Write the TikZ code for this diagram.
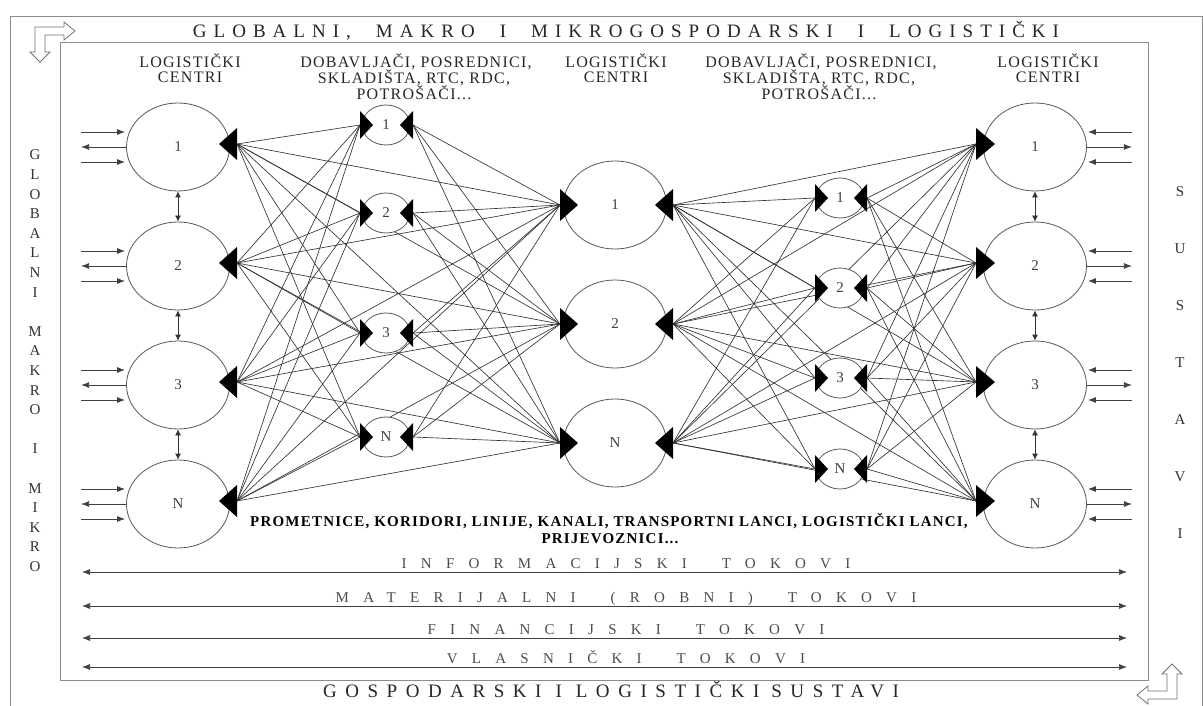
\documentclass[tikz,border=0pt]{standalone}
\usepackage{fontspec}
\setmainfont{Liberation Serif}
\newfontfamily\titlefont[LetterSpace=37]{Liberation Serif}
\newfontfamily\bottomfont[LetterSpace=45]{Liberation Serif}
\newfontfamily\flowfont[LetterSpace=95]{Liberation Serif}
\newfontfamily\headfont[LetterSpace=8]{Liberation Serif}
\newfontfamily\routefont[LetterSpace=8]{Liberation Serif}
\usetikzlibrary{shapes.geometric,arrows.meta,calc}
\newcommand\tipL[3]{\fill[tipcol] (#1) ++(0,#3) -- ++(-#2,-#3) -- ++(#2,-#3) -- cycle;}
\newcommand\tipR[3]{\fill[tipcol] (#1) ++(0,#3) -- ++(#2,-#3) -- ++(-#2,-#3) -- cycle;}
\newcommand\tw{\hspace{25pt}}
\newcommand\fw{\hspace{35pt}}
\begin{document}
\begin{tikzpicture}[x=1pt,y=-1pt,
  big/.style={ellipse,draw=black!65,line width=0.8pt,fill=white,minimum width=103pt,minimum height=88pt,inner sep=0pt,font=\fontsize{15}{15}\selectfont,text=black!75},
  small/.style={ellipse,draw=black!65,line width=0.8pt,fill=white,minimum width=48pt,minimum height=40pt,inner sep=0pt,font=\fontsize{15}{15}\selectfont,text=black!75},
  conn/.style={draw=black!80,line width=0.65pt},
  tipcol/.style={fill=black},
  side/.style={draw=black!75,line width=0.8pt},
  sidetip/.style={-{Latex[length=8pt,width=6pt]}},
  vdbl/.style={draw=black!80,line width=0.8pt,{Latex[length=6pt,width=6pt]}-{Latex[length=6pt,width=6pt]}},
  flow/.style={draw=black!75,line width=0.7pt,{Latex[length=8pt,width=6pt]}-{Latex[length=8pt,width=6pt]}},
  frame/.style={draw=black!45,line width=1pt},
  icon/.style={draw=black!55,line width=0.8pt,fill=white,line join=miter},
  head/.style={anchor=base,inner sep=0pt,font=\fontsize{16}{16}\headfont,text=black!85},
  title/.style={anchor=base,inner sep=0pt,font=\fontsize{19}{19}\titlefont,text=black!85},
  btitle/.style={anchor=base,inner sep=0pt,font=\fontsize{19}{19}\bottomfont,text=black!85},
  flowlab/.style={anchor=base,inner sep=0pt,font=\fontsize{15}{15}\flowfont,text=black!70},
  route/.style={anchor=base,inner sep=0pt,font=\fontsize{15}{15}\routefont\bfseries,text=black},
  vlet/.style={anchor=center,inner sep=0pt,font=\fontsize{15}{15}\selectfont,text=black!80}
]
\useasboundingbox (0,0) rectangle (1203,706);
% frames
\draw[frame] (10,706) -- (10,17) -- (1202,17) -- (1202,706);
\draw[frame] (60,43) rectangle (1148,680);
% icons
\draw[icon] (35,27) -- (64,27) -- (64,22) -- (75,31) -- (64,40) -- (64,35) -- (45,35) -- (45,52) -- (50,52) -- (40,62) -- (30,52) -- (35,52) -- cycle;
\draw[icon] (1177,699) -- (1148,699) -- (1148,704) -- (1137,695) -- (1148,686) -- (1148,691) -- (1167,691) -- (1167,674) -- (1162,674) -- (1172,664) -- (1182,674) -- (1177,674) -- cycle;
% titles
\node[title] (ttop) at (626,38) {GLOBALNI,\tw MAKRO\tw I\tw MIKROGOSPODARSKI\tw I\tw LOGISTIČKI};
\node[btitle] (tbot) at (611,697) {GOSPODARSKI\hspace{14pt}I\hspace{14pt}LOGISTIČKI\hspace{12pt}SUSTAVI};
\foreach \s/\c in {0/G,1/L,2/O,3/B,4/A,5/L,6/N,7/I,9/M,10/A,11/K,12/R,13/O,15/I,17/M,18/I,19/K,20/R,21/O}
  \node[vlet] (vl\s) at (35,155+19.6*\s) {\c};
\foreach \s/\c in {0/S,1/U,2/S,3/T,4/A,5/V,6/I}
  \node[vlet] (vr\s) at (1180,192+56.9*\s) {\c};
% headers
\node[head] (h1a) at (190,68) {LOGISTIČKI};
\node[head] (h1b) at (190,83) {CENTRI};
\node[head] (h2a) at (416,68) {DOBAVLJAČI, POSREDNICI,};
\node[head] (h2b) at (414,84) {SKLADIŠTA, RTC, RDC,};
\node[head] (h2c) at (414,100) {POTROŠAČI...};
\node[head] (h3a) at (616,68) {LOGISTIČKI};
\node[head] (h3b) at (616,83) {CENTRI};
\node[head] (h4a) at (821,68) {DOBAVLJAČI, POSREDNICI,};
\node[head] (h4b) at (819,84) {SKLADIŠTA, RTC, RDC,};
\node[head] (h4c) at (819,100) {POTROŠAČI...};
\node[head] (h5a) at (1048,68) {LOGISTIČKI};
\node[head] (h5b) at (1048,83) {CENTRI};
% connection points
\foreach \n/\y in {1/147,2/266,3/385,N/504}{
  \coordinate (pL\n) at (237,\y-3);
  \coordinate (pR\n) at (976,\y-3);
}
\foreach \n/\y in {1/125,2/213,3/333,N/437}{
  \coordinate (aL\n) at (360,\y);
  \coordinate (aR\n) at (413,\y);
}
\foreach \n/\y in {1/205,2/324,N/443}{
  \coordinate (cL\n) at (560,\y);
  \coordinate (cR\n) at (673,\y);
}
\foreach \n/\y in {1/198,2/288,3/378,N/469}{
  \coordinate (bL\n) at (815,\y);
  \coordinate (bR\n) at (867,\y);
}
% connectors
\foreach \i in {1,2,3,N}{
  \foreach \j in {1,2,3,N}{
    \draw[conn] (pL\i) -- (aL\j);
    \draw[conn] (bR\j) -- (pR\i);
  }
  \foreach \k in {1,2,N}{
    \draw[conn] (pL\i) -- (cL\k);
    \draw[conn] (aR\i) -- (cL\k);
    \draw[conn] (cR\k) -- (bL\i);
    \draw[conn] (cR\k) -- (pR\i);
  }
}
% nodes
\foreach \n/\y in {1/147,2/266,3/385,N/504}{
  \node[big] (L\n) at (178,\y) {\n};
  \node[big] (R\n) at (1035,\y) {\n};
}
\foreach \n/\y in {1/125,2/213,3/333,N/437}
  \node[small] (A\n) at (386,\y) {\n};
\foreach \n/\y in {1/205,2/324,N/443}
  \node[big] (C\n) at (615,\y) {\n};
\foreach \n/\y in {1/198,2/288,3/378,N/469}
  \node[small] (B\n) at (840,\y) {\n};
% arrow heads
\foreach \n in {1,2,3,N}{
  \tipL{pL\n}{18}{16}
  \tipR{pR\n}{19}{16}
  \tipR{aL\n}{13}{14}
  \tipL{aR\n}{13}{14}
  \tipR{bL\n}{13}{14}
  \tipL{bR\n}{13}{14}
}
\foreach \n in {1,2,N}{
  \tipR{cL\n}{18}{16}
  \tipL{cR\n}{18}{16}
}
% vertical double arrows
\draw[vdbl] (L1.south) -- (L2.north);
\draw[vdbl] (L2.south) -- (L3.north);
\draw[vdbl] (L3.south) -- (LN.north);
\draw[vdbl] (R1.south) -- (R2.north);
\draw[vdbl] (R2.south) -- (R3.north);
\draw[vdbl] (R3.south) -- (RN.north);
% side arrows
\foreach \n in {1,2,3,N}{
  \draw[side,sidetip] ($(L\n.west)+(-45,-15)$) -- ($(L\n.west)+(-1,-15)$);
  \draw[side,sidetip] (L\n.west) -- ($(L\n.west)+(-45,0)$);
  \draw[side,sidetip] ($(L\n.west)+(-45,15)$) -- ($(L\n.west)+(-1,15)$);
  \draw[side,sidetip] ($(R\n.east)+(45,-15)$) -- ($(R\n.east)+(1,-15)$);
  \draw[side,sidetip] (R\n.east) -- ($(R\n.east)+(45,0)$);
  \draw[side,sidetip] ($(R\n.east)+(45,15)$) -- ($(R\n.east)+(1,15)$);
}
% route label
\node[route] (rt1) at (609,526) {PROMETNICE, KORIDORI, LINIJE, KANALI, TRANSPORTNI LANCI, LOGISTIČKI LANCI,};
\node[route] (rt2) at (610,543) {PRIJEVOZNICI...};
% flows
\foreach \k/\y/\t in {1/572/{INFORMACIJSKI\fw TOKOVI},2/606/{MATERIJALNI\fw (ROBNI)\fw TOKOVI},3/638/{FINANCIJSKI\fw TOKOVI},4/667/{VLASNIČKI\fw TOKOVI}}{
  \coordinate (fa\k) at (82,\y);
  \coordinate (fb\k) at (1127,\y);
  \draw[flow] (fa\k) -- (fb\k);
  \node[flowlab] (fl\k) at (626,\y-4) {\t};
}
\end{tikzpicture}
\end{document}
